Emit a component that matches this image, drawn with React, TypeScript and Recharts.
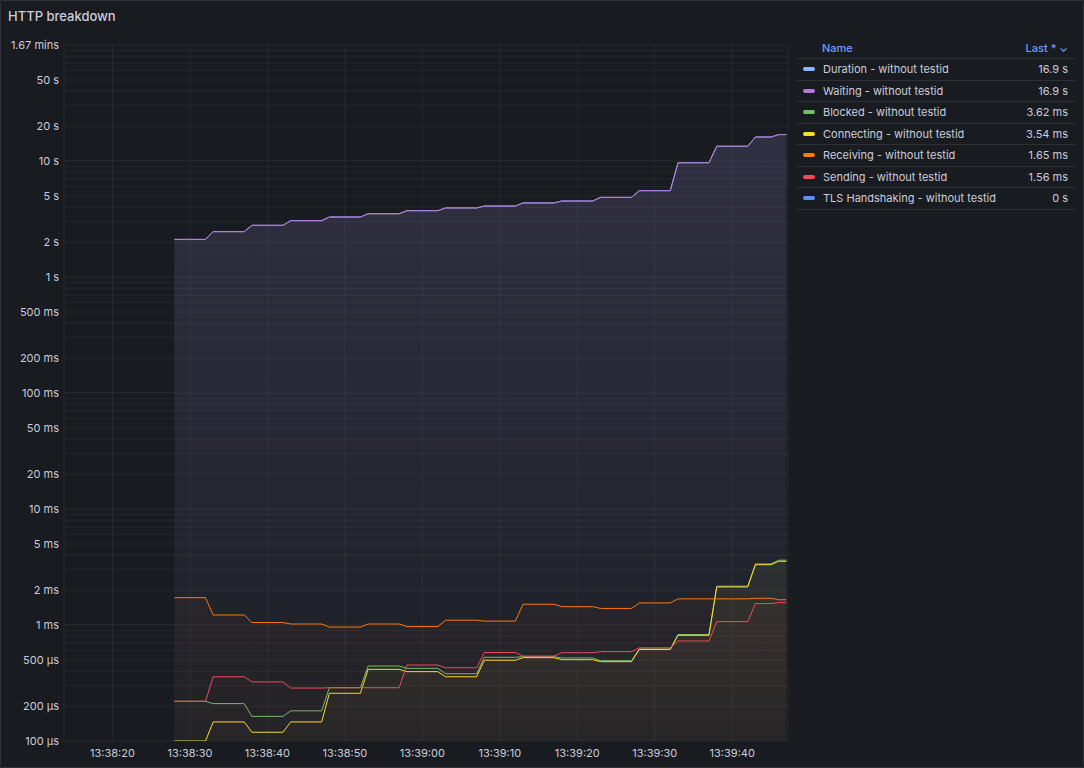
import { ComposedChart, Area, XAxis, YAxis, CartesianGrid } from 'recharts';

// seconds after 13:38:00; each level is held for two samples (start and end of the flat)
const stepTimes = [
  28, 32, 33, 37, 38, 42, 43, 47, 48, 52, 53, 57, 58, 62, 63, 67, 68, 72,
  73, 77, 78, 82, 83, 87, 88, 92, 93, 97, 98, 102, 103, 105, 106, 107,
];

const waitingS = [2.11, 2.46, 2.79, 3.06, 3.29, 3.51, 3.73, 3.94, 4.09, 4.35, 4.52, 4.86, 5.55, 9.66, 13.4, 16.1, 16.9];
const durationS = [2.11, 2.46, 2.79, 3.06, 3.29, 3.51, 3.73, 3.94, 4.09, 4.35, 4.52, 4.86, 5.55, 9.66, 13.4, 16.1, 16.9];
const blockedMs = [0.22, 0.21, 0.163, 0.182, 0.288, 0.443, 0.423, 0.38, 0.527, 0.533, 0.52, 0.492, 0.621, 0.828, 2.16, 3.36, 3.62];
const connectingMs = [0.1, 0.146, 0.119, 0.146, 0.258, 0.415, 0.396, 0.358, 0.497, 0.523, 0.502, 0.483, 0.615, 0.815, 2.13, 3.31, 3.54];
const receivingMs = [1.72, 1.22, 1.05, 1.02, 0.96, 1.02, 0.97, 1.1, 1.08, 1.51, 1.44, 1.39, 1.55, 1.68, 1.68, 1.7, 1.65];
const sendingMs = [0.22, 0.358, 0.323, 0.286, 0.288, 0.288, 0.452, 0.428, 0.579, 0.54, 0.577, 0.589, 0.636, 0.728, 1.07, 1.53, 1.56];

const xTicks = [20, 30, 40, 50, 60, 70, 80, 90, 100];
const xTickLabels = ['13:38:20', '13:38:30', '13:38:40', '13:38:50', '13:39:00', '13:39:10', '13:39:20', '13:39:30', '13:39:40'];

const yLabels: [number, string][] = [
  [100, '1.67 mins'], [50, '50 s'], [20, '20 s'], [10, '10 s'], [5, '5 s'], [2, '2 s'], [1, '1 s'],
  [0.5, '500 ms'], [0.2, '200 ms'], [0.1, '100 ms'], [0.05, '50 ms'], [0.02, '20 ms'], [0.01, '10 ms'],
  [0.005, '5 ms'], [0.002, '2 ms'], [0.001, '1 ms'], [0.0005, '500 µs'], [0.0002, '200 µs'], [0.0001, '100 µs'],
];

const series = [
  { key: 'duration', name: 'Duration - without testid', color: '#8ab8ff', last: '16.9 s' },
  { key: 'waiting', name: 'Waiting - without testid', color: '#b877d9', last: '16.9 s' },
  { key: 'blocked', name: 'Blocked - without testid', color: '#73bf69', last: '3.62 ms' },
  { key: 'connecting', name: 'Connecting - without testid', color: '#fade2a', last: '3.54 ms' },
  { key: 'receiving', name: 'Receiving - without testid', color: '#ff780a', last: '1.65 ms' },
  { key: 'sending', name: 'Sending - without testid', color: '#f2495c', last: '1.56 ms' },
  { key: 'tls', name: 'TLS Handshaking - without testid', color: '#5794f2', last: '0 s' },
];

const data = stepTimes.map((t, i) => {
  const l = Math.floor(i / 2);
  return {
    t,
    duration: durationS[l],
    waiting: waitingS[l],
    blocked: blockedMs[l] / 1000,
    connecting: connectingMs[l] / 1000,
    receiving: receivingMs[l] / 1000,
    sending: sendingMs[l] / 1000,
  };
});

// log grid: every 1..9 multiple of each decade
const yGrid: number[] = [];
[1e-4, 1e-3, 1e-2, 1e-1, 1, 10].forEach((d) => {
  for (let m = 1; m < 10; m++) yGrid.push(m * d);
});
yGrid.push(100);

const yFmt = (v: number) => {
  const hit = yLabels.find(([val]) => Math.abs(v / val - 1) < 1e-6);
  return hit ? hit[1] : '';
};
const xFmt = (v: number) => xTickLabels[xTicks.indexOf(v)] ?? '';

const font = 'Inter, "Noto Sans", sans-serif';
const text = '#ccccdc';
const line = 'rgba(204,204,220,0.12)';

export default function App() {
  const drawn = series.filter((s) => s.key !== 'tls');
  return (
    <div style={{ position: 'relative', width: 1084, height: 768, background: '#181b1f', border: `1px solid ${line}`, boxSizing: 'border-box', borderRadius: 2, fontFamily: font, color: text, overflow: 'hidden' }}>
      <style>{'body{margin:0;background:#111217}'}</style>
      <div style={{ position: 'absolute', left: 7, top: 7, fontSize: 13, fontWeight: 500 }}>HTTP breakdown</div>

      <div style={{ position: 'absolute', left: -1, top: -1 }}>
        <ComposedChart width={795} height={768} data={data} margin={{ top: 45, right: 7, bottom: 0, left: 0 }}>
          <defs>
            {drawn.map((s) => (
              <linearGradient key={s.key} id={`fill-${s.key}`} gradientUnits="userSpaceOnUse" x1={0} y1={45} x2={0} y2={741}>
                <stop offset="0" stopColor={s.color} stopOpacity={0.1} />
                <stop offset="1" stopColor={s.color} stopOpacity={0.015} />
              </linearGradient>
            ))}
          </defs>
          <CartesianGrid stroke="rgba(204,204,220,0.07)" vertical horizontal />
          <XAxis
            dataKey="t"
            type="number"
            domain={[13.74, 107.2]}
            allowDataOverflow
            ticks={xTicks}
            tickFormatter={xFmt}
            axisLine={false}
            tickLine={false}
            tickSize={0}
            tickMargin={8}
            height={27}
            interval={0}
            tick={{ fill: text, fontSize: 11, fontFamily: font }}
          />
          <YAxis
            scale="log"
            type="number"
            domain={[0.0001, 100]}
            allowDataOverflow
            ticks={yGrid}
            tickFormatter={yFmt}
            interval={0}
            axisLine={false}
            tickLine={false}
            tickSize={0}
            tickMargin={5}
            width={64}
            tick={{ fill: text, fontSize: 11, fontFamily: font }}
          />
          {drawn.map((s) => (
            <Area
              key={s.key}
              dataKey={s.key}
              type="linear"
              stroke={s.color}
              strokeWidth={1}
              fill={`url(#fill-${s.key})`}
              fillOpacity={1}
              baseValue={0.0001}
              dot={false}
              activeDot={false}
              isAnimationActive={false}
            />
          ))}
        </ComposedChart>
      </div>

      <div style={{ position: 'absolute', left: 795, top: 36, width: 280, fontSize: 11 }}>
        <div style={{ display: 'flex', justifyContent: 'space-between', height: 21, alignItems: 'center', borderBottom: `1px solid ${line}`, color: '#6e9fff', fontWeight: 500, padding: '0 8px 0 26px' }}>
          <span>Name</span>
          <span>Last * ⌄</span>
        </div>
        {series.map((s) => (
          <div key={s.key} style={{ display: 'flex', alignItems: 'center', height: 20.5, borderBottom: `1px solid ${line}`, padding: '0 8px 0 7px' }}>
            <span style={{ width: 12, height: 4, borderRadius: 2, background: s.color, marginRight: 8 }} />
            <span style={{ flex: 1 }}>{s.name}</span>
            <span>{s.last}</span>
          </div>
        ))}
      </div>
    </div>
  );
}
